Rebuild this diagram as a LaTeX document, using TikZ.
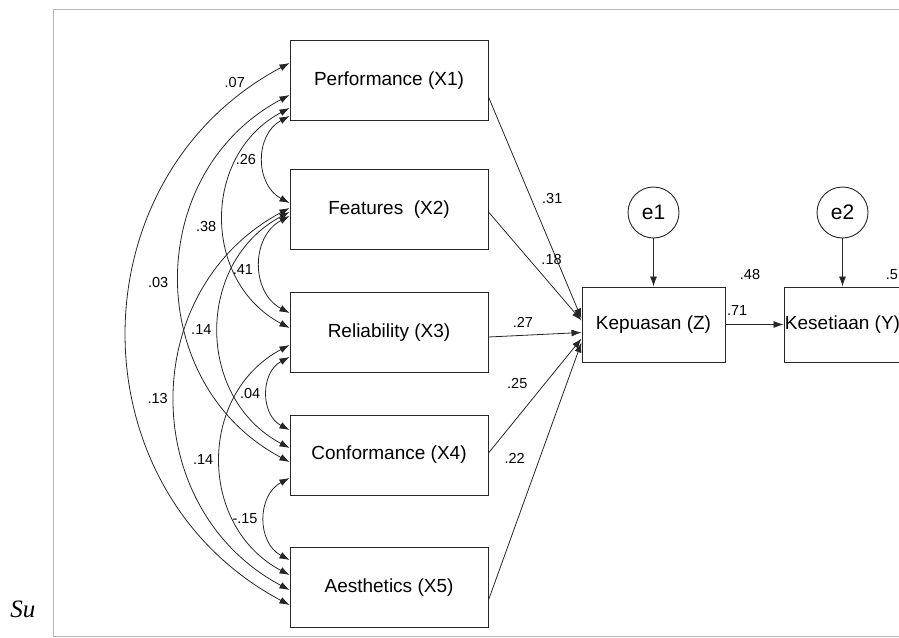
\documentclass[tikz,border=0pt]{standalone}
\usepackage{fontspec}
\setmainfont{Liberation Sans}
\newfontfamily\srcfont{Liberation Serif}
\usetikzlibrary{arrows.meta}
\tikzset{
  var/.style={draw, line width=1pt, minimum width=198pt, minimum height=80pt,
    inner sep=0pt, font=\fontsize{19}{22}\selectfont},
  err/.style={draw, circle, line width=0.9pt, minimum size=51pt, inner sep=0pt,
    font=\fontsize{21}{24}\selectfont},
  lab/.style={font=\fontsize{14.5}{16}\selectfont, inner sep=2pt},
  cl/.style={lab, left=5pt},
  cov/.style={<->, bend right=62, looseness=1.16},
}
\begin{document}
\begin{tikzpicture}[x=1pt, y=-1pt, >={Latex[length=10pt,width=7pt]},
    line width=0.8pt, draw=black!85]
    \useasboundingbox (0,0) rectangle (899,637);
    \clip (0,0) rectangle (899,637);
    \draw[gray!55, line width=1pt] (53,9) rectangle (950,636);
    \node[anchor=base west, inner sep=0pt,
      font=\srcfont\itshape\fontsize{25}{28}\selectfont] (src) at (10,617) {Su};
    % variables
    \node[var] (X1) at (389,80.5) {Performance (X1)};
    \node[var] (X2) at (389,209.5) {Features\ \ (X2)};
    \node[var] (X3) at (389,332.5) {Reliability (X3)};
    \node[var] (X4) at (389,455) {Conformance (X4)};
    \node[var] (X5) at (389,587.5) {Aesthetics (X5)};
    \node[var, minimum width=143pt, minimum height=75pt] (Z) at (653.5,324.5) {Kepuasan (Z)};
    \node[var, minimum width=117pt, minimum height=75pt] (Y) at (842.5,324.5) {Kesetiaan (Y)};
    \node[err] (e1) at (653.5,212.5) {e1};
    \node[err] (e2) at (842.5,212.5) {e2};
    \node[lab, anchor=west] (r2z) at ([xshift=12pt, yshift=12pt]Z.north east) {.48};
    \node[lab, anchor=west] (r2y) at ([xshift=-18pt, yshift=12pt]Y.north east) {.5};
    % paths
    \path ([yshift=-16.5pt]X1.east) edge [->] node [lab, pos=0.46, xshift=21pt] {.31} ([yshift=6pt]Z.west);
    \path ([yshift=-2.5pt]X2.east) edge [->] node [lab, pos=0.42, xshift=24pt, yshift=-2pt] {.18} ([yshift=4pt]Z.west);
    \path ([yshift=-4.5pt]X3.east) edge [->] node [lab, pos=0.37, yshift=13pt] {.27} ([yshift=-8pt]Z.west);
    \path ([yshift=2pt]X4.east) edge [->] node [lab, pos=0.61, xshift=-28pt] {.25} ([yshift=-14pt]Z.west);
    \path ([yshift=-12.5pt]X5.east) edge [->] node [lab, pos=0.55, xshift=-25pt] {.22} ([yshift=-18pt]Z.west);
    \path (Z) edge [->] node [lab, pos=0.2, above=6.5pt] {.71} (Y);
    \path (e1) edge [->] (Z);
    \path (e2) edge [->] (Y);
    % covariances
    \path ([yshift=-35.5pt]X1.west) edge [cov] node [cl] {.26} ([yshift=6.5pt]X2.west);
    \path ([yshift=-6.5pt]X2.west) edge [cov] node [cl, yshift=-5pt] {.41} ([yshift=19.5pt]X3.west);
    \path ([yshift=-24.5pt]X3.west) edge [cov] node [cl] {.04} ([yshift=25pt]X4.west);
    \path ([yshift=-23pt]X4.west) edge [cov] node [cl] {-.15} ([yshift=27.5pt]X5.west);
    \path ([yshift=-27.5pt]X1.west) edge [cov] node [cl, yshift=-9pt] {.38} ([yshift=4.5pt]X3.west);
    \path ([yshift=-2.5pt]X2.west) edge [cov] node [cl] {.14} ([yshift=7pt]X4.west);
    \path ([yshift=-12.5pt]X3.west) edge [cov] node [cl] {.14} ([yshift=12.5pt]X5.west);
    \path ([yshift=-14.5pt]X1.west) edge [cov] node [cl, xshift=-4pt, yshift=-4pt] {.03} ([yshift=-7pt]X4.west);
    \path ([yshift=1.5pt]X2.west) edge [cov] node [cl] {.13} ([yshift=-2.5pt]X5.west);
    \path ([yshift=17.5pt]X1.west) edge [cov] node [lab, pos=0.07, above left] {.07} ([yshift=-17.5pt]X5.west);
  \end{tikzpicture}
\end{document}
